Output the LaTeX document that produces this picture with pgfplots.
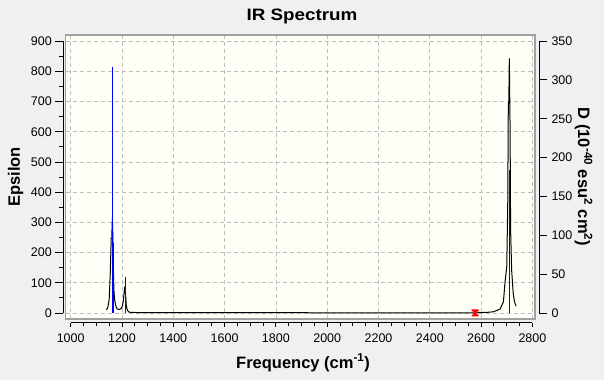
\documentclass[border=0pt]{standalone}
\usepackage{fontspec}
\setmainfont{Liberation Sans}
\usepackage{graphicx}
\usepackage{pgfplots}
\pgfplotsset{compat=1.18}
\definecolor{bgc}{HTML}{F0F0F0}
\definecolor{plotbg}{HTML}{FFFFF7}
\definecolor{boxc}{HTML}{A0A0A0}
\definecolor{gridc}{HTML}{BEBEBE}
\definecolor{stick}{HTML}{0000FF}
\pgfdeclareplotmark{ibeam}{%
  \pgfpathmoveto{\pgfqpoint{-3.5pt}{3.5pt}}%
  \pgfpathlineto{\pgfqpoint{3.5pt}{3.5pt}}%
  \pgfpathlineto{\pgfqpoint{3.5pt}{2pt}}%
  \pgfpathlineto{\pgfqpoint{1.2pt}{1pt}}%
  \pgfpathlineto{\pgfqpoint{1.2pt}{-1pt}}%
  \pgfpathlineto{\pgfqpoint{3.5pt}{-2pt}}%
  \pgfpathlineto{\pgfqpoint{3.5pt}{-3.5pt}}%
  \pgfpathlineto{\pgfqpoint{-3.5pt}{-3.5pt}}%
  \pgfpathlineto{\pgfqpoint{-3.5pt}{-2pt}}%
  \pgfpathlineto{\pgfqpoint{-1.2pt}{-1pt}}%
  \pgfpathlineto{\pgfqpoint{-1.2pt}{1pt}}%
  \pgfpathlineto{\pgfqpoint{-3.5pt}{2pt}}%
  \pgfpathclose\pgfusepathqfill}
\begin{document}
\begin{tikzpicture}
\fill[bgc] (0pt,0pt) rectangle (604pt,380pt);
\pgfplotsset{every axis/.append style={scale only axis,
  /pgf/number format/1000 sep={},
  /pgf/number format/assume math mode=true,
  tick label style={font=\fontsize{12.5}{14}\selectfont},
  tick style={black, line width=1pt},
  axis line style={black, line width=1pt}}}
% main box with grid and epsilon curve
\begin{axis}[at={(65.5pt,61pt)}, anchor=south west, width=469.5pt, height=284pt,
  xmin=979.7, xmax=2810.1, ymin=-19.9, ymax=920.5,
  axis background/.style={fill=plotbg},
  axis line style={draw=boxc, line width=1.5pt},
  xtick={1000,1200,...,2800}, ytick={0,100,...,900},
  xticklabels={}, yticklabels={}, major tick length=0pt,
  grid=major, grid style={gridc, dash pattern=on 4pt off 3pt, line width=0.8pt}]
\addplot[black, line width=1pt, mark=none] coordinates {
(1140,10) (1145,20) (1150,45) (1154,126) (1158,248) (1160,248) (1162.5,317)
(1165,230) (1167,120) (1169,66) (1172,40) (1177,20) (1182,13) (1190,12)
(1197,15) (1202,25) (1205,40) (1208,65) (1210.5,83) (1212,80) (1214,60)
(1217,20) (1222,8) (1226,4) (1232,2) (1260,1.5) (1400,1.2) (1600,1)
(1925,1) (1930,0.3) (2000,0.3) (2400,0.3) (2580,0.5) (2600,1.5) (2622,2)
(2648,4) (2674,13) (2687,37) (2693,100) (2700,153) (2704,374) (2706,689)
(2708,700) (2710,843) (2713,606) (2715,275) (2719,142) (2725,66) (2730,38)
(2736,23)};
\end{axis}
% sticks on D scale
\begin{axis}[at={(65.5pt,61pt)}, anchor=south west, width=469.5pt, height=284pt,
  xmin=979.7, xmax=2810.1, ymin=-7.74, ymax=358.0, hide axis]
\addplot[stick, line width=1pt, ycomb, mark=none] coordinates {
(1162.5,317) (1165,90) (1213,46) (1215,24) (2710.5,184)};
\addplot[red, only marks, mark=ibeam] coordinates {(2577,0)};
\end{axis}
% left tick axis
\begin{axis}[at={(63.3pt,67pt)}, anchor=south west, width=5pt, height=271.8pt,
  xmin=0, xmax=1, ymin=0, ymax=900,
  axis y line*=left, axis x line=none,
  ytick={0,100,...,900}, minor y tick num=1,
  tick align=outside, major tick length=8pt, minor tick length=4pt]
\end{axis}
% bottom tick axis
\begin{axis}[at={(70.7pt,57.3pt)}, anchor=south west, width=461.7pt, height=5pt,
  xmin=1000, xmax=2800, ymin=0, ymax=1,
  axis x line*=bottom, axis y line=none,
  xtick={1000,1200,...,2800}, minor x tick num=3,
  xticklabel style={yshift=-3pt},
  tick align=outside, major tick length=4.7pt, minor tick length=3.3pt]
\end{axis}
% right tick axis
\begin{axis}[at={(539pt,67pt)}, anchor=south east, width=5pt, height=271.95pt,
  xmin=0, xmax=1, ymin=0, ymax=350,
  axis y line*=right, axis x line=none,
  ytick={0,50,...,350}, yticklabel style={xshift=1pt},
  tick align=outside, major tick length=8pt]
\end{axis}
\node[font=\fontsize{16.5}{19}\selectfont\bfseries, anchor=base] at (302pt,359.4pt) {\scalebox{1.14}[1]{IR Spectrum}};
\node[font=\fontsize{16.5}{19}\selectfont\bfseries, anchor=base] at (303pt,11.8pt) {Frequency (cm\textsuperscript{-1})};
\node[font=\fontsize{16.5}{19}\selectfont\bfseries, anchor=base, rotate=90] at (20pt,203pt) {Epsilon};
\node[font=\fontsize{16.5}{19}\selectfont\bfseries, anchor=base, rotate=-90] at (578pt,203pt) {D (10\textsuperscript{-40} esu\textsuperscript{2} cm\textsuperscript{2})};
\pgfresetboundingbox
\path (0pt,0pt) rectangle (604pt,380pt);
\end{tikzpicture}
\end{document}
